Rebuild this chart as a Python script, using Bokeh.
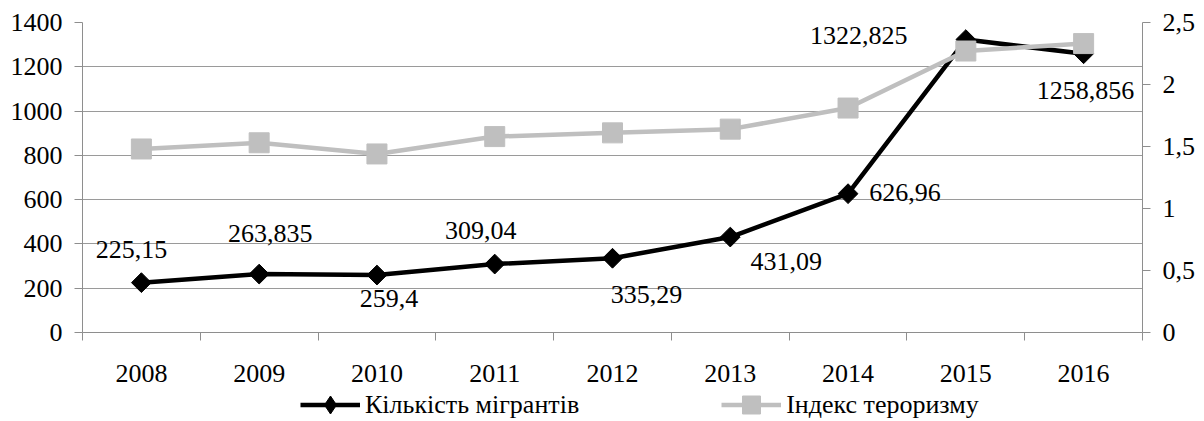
import numpy as np
from bokeh.plotting import figure
from bokeh.layouts import column
from bokeh.models import (Range1d, LinearAxis, FixedTicker, Legend, LegendItem,
                          ColumnDataSource)
from bokeh.core.properties import value
from bokeh.embed import file_html
from bokeh.resources import INLINE

# ---- data ----
years = ["2008", "2009", "2010", "2011", "2012", "2013", "2014", "2015", "2016"]
migrants = [225.15, 263.835, 259.4, 309.04, 335.29, 431.09, 626.96, 1322.825, 1258.856]
terror_index = [1.48, 1.53, 1.44, 1.58, 1.61, 1.64, 1.81, 2.27, 2.33]
left_ticks = [0, 200, 400, 600, 800, 1000, 1200, 1400]
right_ticks = [0, 0.5, 1, 1.5, 2, 2.5]
right_tick_labels = ["0", "0,5", "1", "1,5", "2", "2,5"]
series_names = ["Кількість мігрантів", "Індекс тероризму"]
migrant_labels = [str(v).replace(".", ",") for v in migrants]

# label placement (screen px offsets from each point)
label_dx = [-10, 11, 12, -14, 34, 56, 57, -107, 2]
label_dy = [-33, -41, 23, -34, 36, 24, -1, -4, 37]

FONT = "Liberation Serif"
FS = "26px"
AXIS_COLOR = "#8e8e8e"
GRID_COLOR = "#9a9a9a"
BLACK = "#000000"
GREY = "#BFBFBF"

n = len(years)
xs = [i + 0.5 for i in range(n)]

src = ColumnDataSource(dict(x=xs, m=migrants, t=terror_index, lab=migrant_labels,
                            dx=label_dx, dy=label_dy))

p = figure(frame_width=1060, frame_height=310,
           x_range=Range1d(0, n), y_range=Range1d(0, 1400),
           output_backend="svg", toolbar_location=None,
           min_border_left=82, min_border_right=62, min_border_top=22,
           min_border_bottom=55)
p.outline_line_color = None
p.background_fill_color = "white"
p.border_fill_color = "white"

# grid
p.xgrid.grid_line_color = None
p.ygrid.grid_line_color = GRID_COLOR
p.ygrid.grid_line_width = 1
p.ygrid.ticker = FixedTicker(ticks=left_ticks)

# x axis: labels at centers, ticks at category boundaries
xa = p.xaxis[0]
xa.ticker = FixedTicker(ticks=xs, minor_ticks=list(range(n + 1)))
xa.major_label_overrides = {x: y for x, y in zip(xs, years)}
xa.major_tick_out = 0
xa.major_tick_in = 0
xa.minor_tick_out = 8
xa.minor_tick_in = 0
xa.minor_tick_line_color = AXIS_COLOR
xa.axis_line_color = AXIS_COLOR
xa.major_label_text_font = FONT
xa.major_label_text_font_size = FS
xa.major_label_text_color = BLACK
xa.major_label_standoff = 24

# left axis
ya = p.yaxis[0]
ya.ticker = FixedTicker(ticks=left_ticks)
ya.major_tick_out = 8
ya.major_tick_in = 0
ya.minor_tick_out = 0
ya.minor_tick_in = 0
ya.axis_line_color = AXIS_COLOR
ya.major_tick_line_color = AXIS_COLOR
ya.major_label_text_font = FONT
ya.major_label_text_font_size = FS
ya.major_label_text_color = BLACK
ya.major_label_standoff = 12

# right axis
p.extra_y_ranges = {"r": Range1d(0, 2.5)}
ra = LinearAxis(y_range_name="r", ticker=FixedTicker(ticks=right_ticks))
ra.major_label_overrides = {t: l for t, l in zip(right_ticks, right_tick_labels)}
ra.major_tick_out = 8
ra.major_tick_in = 0
ra.minor_tick_out = 0
ra.minor_tick_in = 0
ra.axis_line_color = AXIS_COLOR
ra.major_tick_line_color = AXIS_COLOR
ra.major_label_text_font = FONT
ra.major_label_text_font_size = FS
ra.major_label_text_color = BLACK
ra.major_label_standoff = 12
p.add_layout(ra, "right")

# series
p.line("x", "m", source=src, line_color=BLACK, line_width=4.5)
p.scatter("x", "m", source=src, marker="square", angle=np.pi / 4, size=14,
          fill_color=BLACK, line_color=BLACK)
p.line("x", "t", source=src, y_range_name="r", line_color=GREY, line_width=4.5)
p.scatter("x", "t", source=src, y_range_name="r", marker="square", size=20,
          fill_color=GREY, line_color=GREY)

p.text("x", "m", text="lab", source=src, x_offset="dx", y_offset="dy",
       text_font=value(FONT), text_font_size=FS, text_color=BLACK,
       text_align="center", text_baseline="middle")

# ---- legend strip below the chart (proxy renderers kept outside its view) ----
lf = figure(width=1204, height=34, x_range=Range1d(0, 1), y_range=Range1d(0, 1),
            output_backend="svg", toolbar_location=None, min_border=0)
lf.axis.visible = False
lf.grid.visible = False
lf.outline_line_color = None
off = [-5]
ll1 = lf.line(off, off, line_color=BLACK, line_width=4.5)
ls1 = lf.scatter(off, off, marker="diamond", fill_color=BLACK, line_color=BLACK)
ll2 = lf.line(off, off, line_color=GREY, line_width=4.5)
ls2 = lf.scatter(off, off, marker="square", fill_color=GREY, line_color=GREY)

legend = Legend(items=[LegendItem(label=series_names[0], renderers=[ll1, ls1]),
                       LegendItem(label=series_names[1], renderers=[ll2, ls2])],
                orientation="horizontal", location=(218, -6),
                glyph_width=60, glyph_height=45, label_standoff=5, spacing=142,
                padding=0, margin=0, border_line_color=None,
                background_fill_alpha=0,
                label_text_font=FONT, label_text_font_size=FS,
                label_text_color=BLACK)
lf.add_layout(legend)

layout = column(p, lf, spacing=0)
open("out.html", "w").write(file_html(layout, INLINE))
